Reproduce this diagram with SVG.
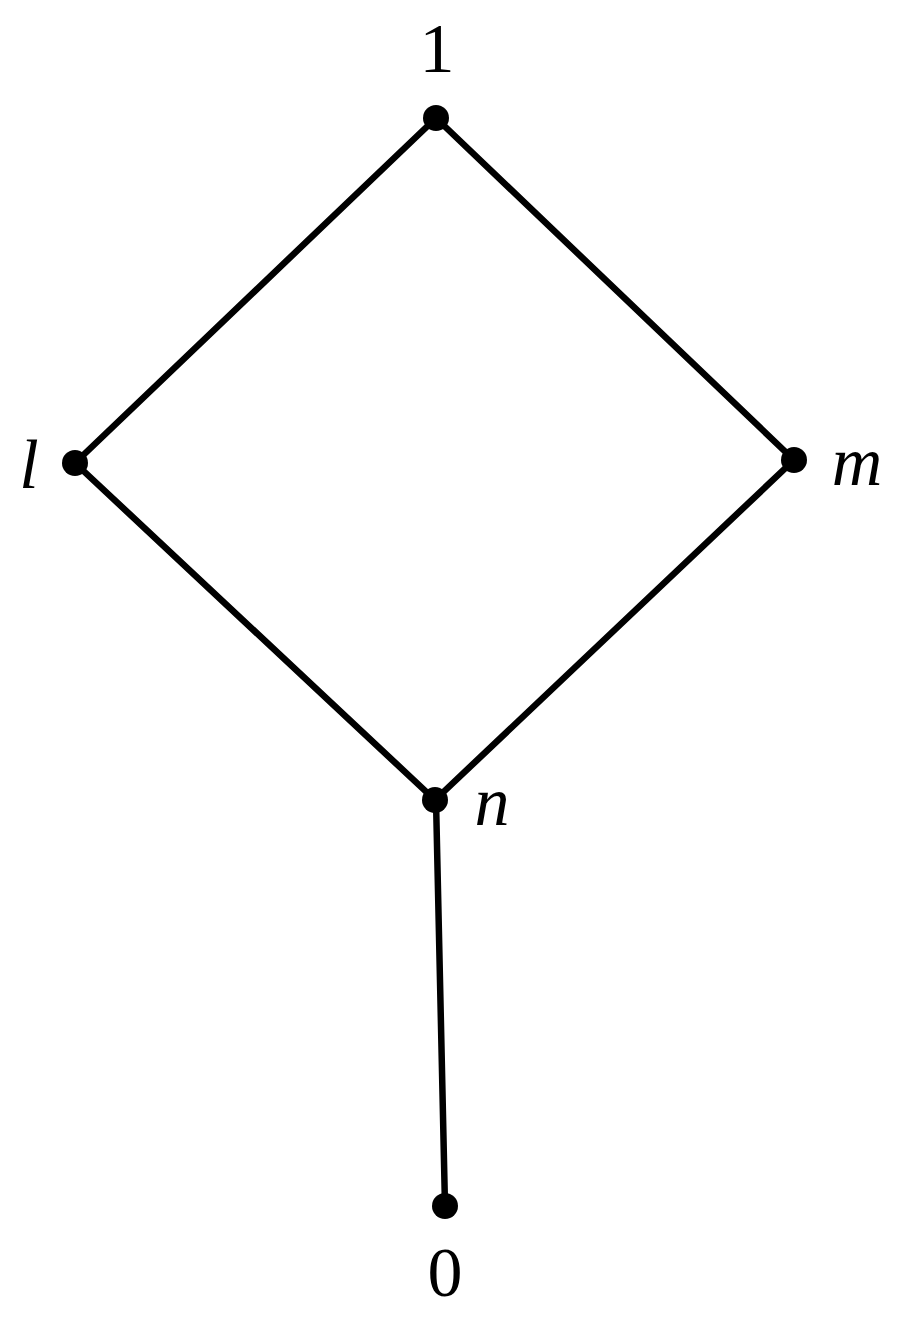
<svg xmlns="http://www.w3.org/2000/svg" width="905" height="1319" viewBox="0 0 905 1319">
<style>
.edge{stroke:#000;stroke-width:6.5;stroke-linecap:round;fill:none}
.dot{fill:#000}
.lbl{font-family:"Liberation Serif","DejaVu Serif",serif;font-size:70px;fill:#000;text-anchor:middle}
.it{font-style:italic}
</style>
<rect width="905" height="1319" fill="#fff"/>
<g id="connectors">
<line class="edge" x1="436" y1="118" x2="75" y2="463"/>
<line class="edge" x1="436" y1="118" x2="794" y2="460"/>
<line class="edge" x1="75" y1="463" x2="435" y2="800"/>
<line class="edge" x1="794" y1="460" x2="435" y2="800"/>
<line class="edge" x1="436" y1="800" x2="445" y2="1206"/>
</g>
<g id="node-1"><circle class="dot" cx="436" cy="118" r="13"/><text class="lbl" x="437" y="72">1</text></g>
<g id="node-l"><circle class="dot" cx="75" cy="463" r="13"/><text class="lbl it" x="29" y="488">l</text></g>
<g id="node-m"><circle class="dot" cx="794" cy="460" r="13"/><text class="lbl it" x="857" y="485">m</text></g>
<g id="node-n"><circle class="dot" cx="435" cy="800" r="13"/><text class="lbl it" x="492" y="825">n</text></g>
<g id="node-0"><circle class="dot" cx="445" cy="1206" r="13"/><text class="lbl" x="445" y="1296">0</text></g>
</svg>
